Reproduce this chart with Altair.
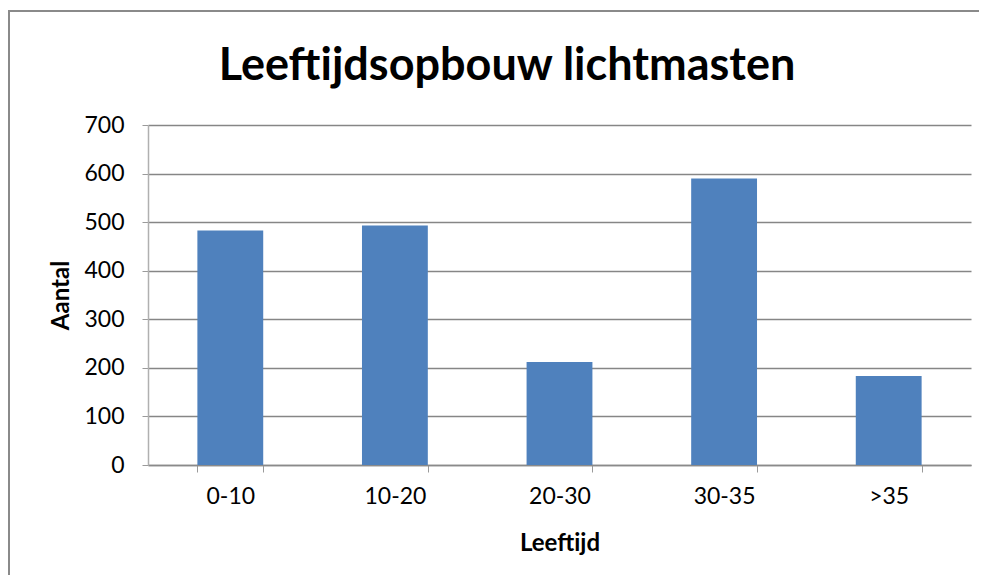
import altair as alt
import pandas as pd

categories = ["0-10", "10-20", "20-30", "30-35", ">35"]
values = [483, 493, 212, 590, 183]
chart_title = "Leeftijdsopbouw lichtmasten"

df = pd.DataFrame({"Leeftijd": categories, "Aantal": values})

FONT = "Lato"
W, H = 823, 340

bars = alt.Chart(df).mark_bar(color="#4F81BD").encode(
    x=alt.X("Leeftijd:N", sort=categories,
            scale=alt.Scale(paddingInner=0.6, paddingOuter=0.3),
            axis=alt.Axis(title="Leeftijd", labelAngle=0, labelFontSize=23,
                          labelFont=FONT, labelColor="#000000", labelPadding=13,
                          tickBand="extent", tickSize=7, tickColor="#9a9a9a",
                          domainColor="#8a8a8a", domainWidth=1.5,
                          titleFont=FONT, titleFontSize=24, titleFontWeight="bold",
                          titleColor="#000000", titleX=W / 2, titleY=78,
                          titleBaseline="middle", titleAlign="center")),
    y=alt.Y("Aantal:Q", scale=alt.Scale(domain=[0, 700], nice=False),
            axis=alt.Axis(title="Aantal", values=list(range(0, 701, 100)),
                          labelFontSize=23, labelFont=FONT, labelColor="#000000",
                          labelPadding=18, tickSize=6, tickColor="#9a9a9a",
                          domainColor="#b0b0b0", domainWidth=1.5,
                          grid=True, gridColor="#868686", gridWidth=1.6,
                          titleFont=FONT, titleFontSize=24, titleFontWeight="bold",
                          titleColor="#000000", titleX=-87, titleY=H / 2,
                          titleAngle=-90, titleBaseline="middle", titleAlign="center")),
)

one = pd.DataFrame({"a": [0]})
border_top = alt.Chart(one).mark_rule(
    stroke="#8a8a8a", strokeWidth=2, clip=False
).encode(x=alt.value(-139), x2=alt.value(W + 8), y=alt.value(-114))
border_left = alt.Chart(one).mark_rule(
    stroke="#8a8a8a", strokeWidth=2, clip=False
).encode(x=alt.value(-139), y=alt.value(-115), y2=alt.value(H + 110))

title = alt.Chart(pd.DataFrame({"t": [chart_title]})).mark_text(
    font=FONT, fontSize=45, fontWeight="bold", color="#000000",
    align="center", baseline="middle"
).encode(
    text="t:N", x=alt.value(359), y=alt.value(-59),
)

chart = alt.layer(border_top, border_left, bars, title).properties(
    width=W, height=H,
    autosize=alt.AutoSizeParams(type="none"),
    padding={"left": 140, "top": 117, "right": 8, "bottom": 110},
).configure_view(stroke=None)

chart.save("out.html", embed_options={"renderer": "svg", "actions": False})
